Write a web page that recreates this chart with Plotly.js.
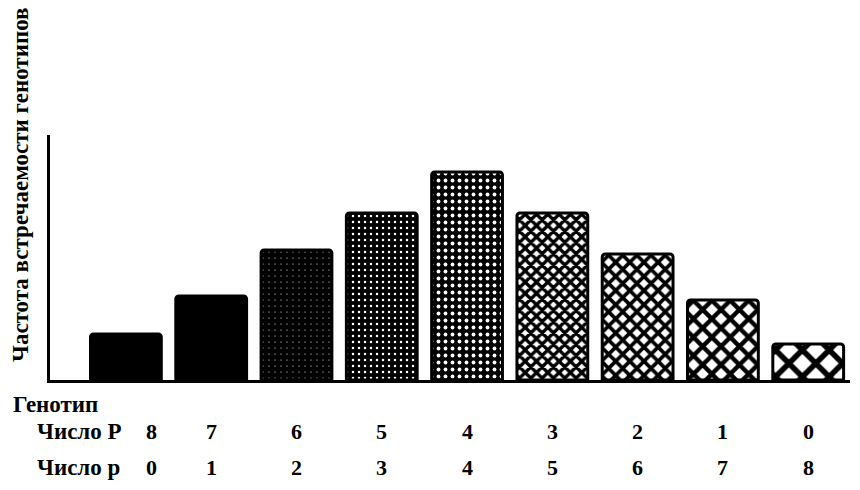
<!DOCTYPE html>
<html>
<head>
<meta charset="utf-8">
<script src="https://cdn.plot.ly/plotly-3.0.1.min.js"></script>
<style>html,body{margin:0;padding:0;background:#fff}#chart{width:860px;height:490px}</style>
</head>
<body>
<div id="chart"></div>
<script>
const genotypes = ["8P0p","7P1p","6P2p","5P3p","4P4p","3P5p","2P6p","1P7p","0P8p"];
const frequency = [46, 84, 130, 167, 208, 167, 126, 80, 36];
const countBigP = ["8","7","6","5","4","3","2","1","0"];
const countSmallP = ["0","1","2","3","4","5","6","7","8"];
const yTitle = "Частота встречаемости генотипов";
const genotypeLabel = "Генотип";
const rowLabelP = "Число P";
const rowLabelp = "Число p";

const patShape = ["", "", ".", ".", ".", "x", "x", "x", "x"];
const patFg = ["#000","#000","#fff","#fff","#fff","#000","#000","#000","#000"];
const patBg = ["#000","#000","#000","#000","#000","#fff","#fff","#fff","#fff"];
const patSize = [8, 8, 6, 6, 7, 8, 10, 13, 19];
const patSolid = [0.5, 0.5, 0.03, 0.14, 0.24, 0.66, 0.6, 0.56, 0.5];

const font = "Liberation Serif, Times New Roman, serif";
const F = (s) => ({family: font, size: s, color: "#000", weight: "bold"});

const trace = {
  type: "bar",
  x: genotypes.map((g, i) => i),
  y: frequency,
  width: 0.83,
  marker: {
    color: "#000",
    cornerradius: 3,
    line: {color: "#000", width: 3},
    pattern: {shape: patShape, fgcolor: patFg, bgcolor: patBg, size: patSize, solidity: patSolid, fillmode: "replace"}
  },
  hoverinfo: "skip"
};

// plot area: left 50, width 800; bottom 380, height 245
const px = (x) => (x - 50) / 800;
const py = (y) => (380 - y) / 245;

const ann = [];
const rowY = [py(431), py(467)];
countBigP.forEach((v, i) => ann.push({x: i, y: rowY[0], xref: "x", yref: "paper", xanchor: "center", yanchor: "middle",
  text: v, showarrow: false, xshift: i === 0 ? 26 : 0, font: F(22)}));
countSmallP.forEach((v, i) => ann.push({x: i, y: rowY[1], xref: "x", yref: "paper", xanchor: "center", yanchor: "middle",
  text: v, showarrow: false, xshift: i === 0 ? 26 : 0, font: F(22)}));
ann.push({x: px(11), y: py(404), xref: "paper", yref: "paper", xanchor: "left", yanchor: "middle",
  text: genotypeLabel, showarrow: false, font: F(23)});
ann.push({x: px(35), y: rowY[0], xref: "paper", yref: "paper", xanchor: "left", yanchor: "middle",
  text: rowLabelP, showarrow: false, font: F(23)});
ann.push({x: px(35), y: rowY[1], xref: "paper", yref: "paper", xanchor: "left", yanchor: "middle",
  text: rowLabelp, showarrow: false, font: F(23)});
ann.push({x: px(20), y: py(185), xref: "paper", yref: "paper", xanchor: "center", yanchor: "middle",
  text: yTitle, textangle: -90, showarrow: false, font: F(23)});

const layout = {
  width: 860, height: 490,
  margin: {l: 50, r: 10, t: 135, b: 110},
  paper_bgcolor: "#fff", plot_bgcolor: "#fff",
  showlegend: false,
  xaxis: {range: [-0.89, 8.49], showticklabels: false, ticks: "", showgrid: false, zeroline: false,
    showline: true, linecolor: "#000", linewidth: 3},
  yaxis: {range: [0, 245], showticklabels: false, ticks: "", showgrid: false, zeroline: false,
    showline: true, linecolor: "#000", linewidth: 3},
  annotations: ann
};

Plotly.newPlot("chart", [trace], layout, {displayModeBar: false, staticPlot: true});
</script>
</body>
</html>
